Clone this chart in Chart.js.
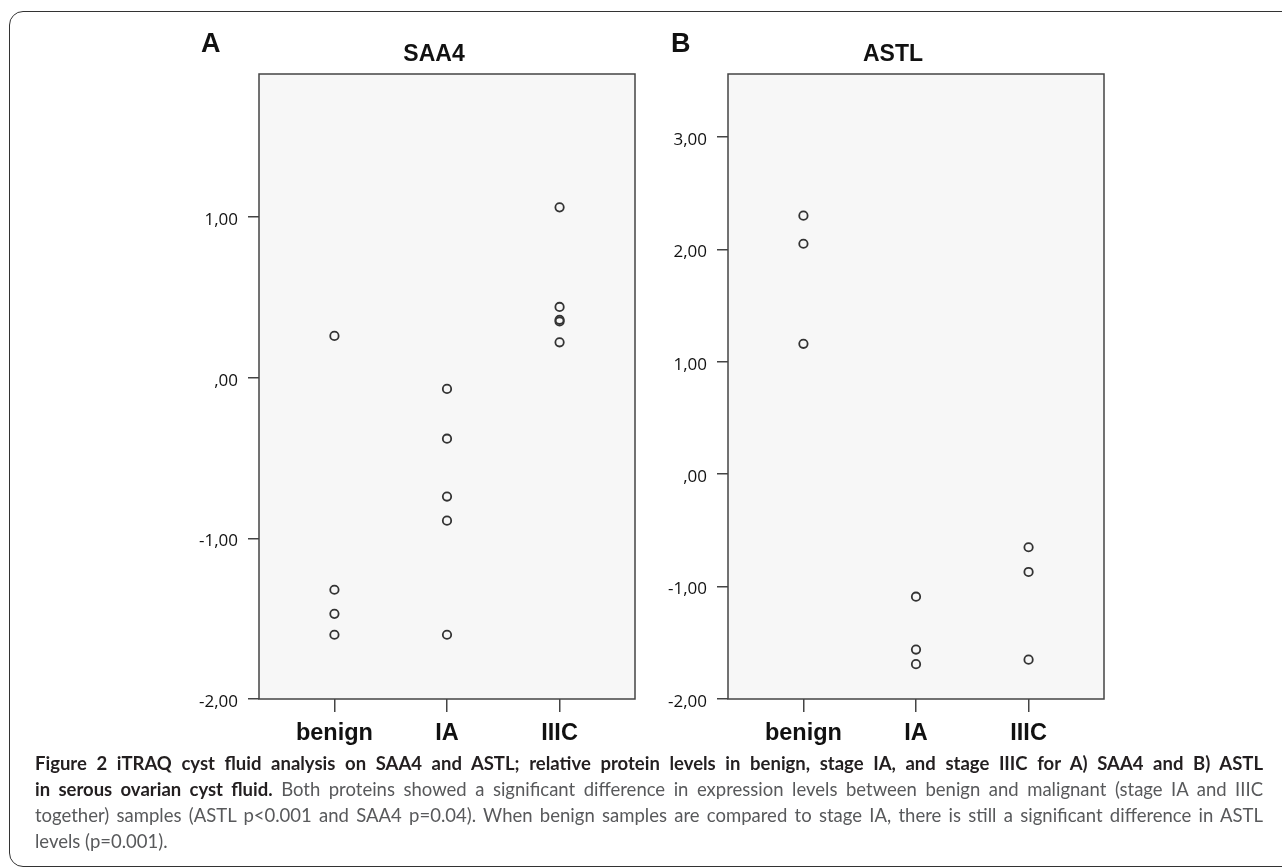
<!DOCTYPE html>
<html>
<head>
<meta charset="utf-8">
<script src="https://cdn.jsdelivr.net/npm/chart.js@4/dist/chart.umd.min.js"></script>
<style>
	html, body { margin: 0; padding: 0; background: #fff; overflow: hidden; }
	body { width: 1282px; height: 868px; position: relative; }
	#frame {
		position: absolute; left: 9px; top: 11px; width: 1400px; height: 854px;
		border: 1.5px solid #333; border-radius: 14px;
	}
	canvas { position: absolute; top: 0; }
	#caption {
		position: absolute; left: 35px; top: 750px; width: 1228px;
		font-family: Lato, "Open Sans", sans-serif; font-size: 18.5px; line-height: 26px;
		color: #58595b;
	}
	#caption b { color: #231f20; font-weight: bold; }
	#caption .ln { text-align: justify; text-align-last: justify; }
</style>
</head>
<body>
<div id="frame"></div>
<canvas id="chartA" width="660" height="760" style="left:0px"></canvas>
<canvas id="chartB" width="642" height="760" style="left:640px"></canvas>
<div id="caption">
	<div class="ln"><b>Figure 2 iTRAQ cyst fluid analysis on SAA4 and ASTL; relative protein levels in benign, stage IA, and stage IIIC for A) SAA4 and B) ASTL</b></div>
	<div class="ln"><b>in serous ovarian cyst fluid.</b> Both proteins showed a significant difference in expression levels between benign and malignant (stage IA and IIIC</div>
	<div class="ln">together) samples (ASTL p&lt;0.001 and SAA4 p=0.04). When benign samples are compared to stage IA, there is still a significant difference in ASTL</div>
	<div>levels (p=0.001).</div>
</div>
<script>
// Group values (relative protein levels).
var categories = ["benign", "IA", "IIIC"];

var saa4Benign = [0.26, -1.32, -1.47, -1.60];
var saa4IA = [-0.07, -0.38, -0.74, -0.89, -1.60];
var saa4IIIC = [1.06, 0.44, 0.36, 0.35, 0.22];
var saa4Ticks = [-2, -1, 0, 1];
var saa4Max = 1.89;

var astlBenign = [2.30, 2.05, 1.16];
var astlIA = [-1.09, -1.56, -1.69];
var astlIIIC = [-0.65, -0.87, -1.65];
var astlTicks = [-2, -1, 0, 1, 2, 3];
var astlMax = 3.56;

// SPSS style decimal comma, zero shown as ",00"
function fmtTick(v) {
	var s = Number(v).toFixed(2).replace(".", ",");
	return s.replace(/^0,/, ",");
}

function toPoints(groups) {
	var pts = [];
	for (var i = 0; i < groups.length; i++) {
		for (var j = 0; j < groups[i].length; j++) {
			pts.push({ x: i + 1, y: groups[i][j] });
		}
	}
	return pts;
}

// Plot background, box and panel headings
var panelDeco = {
	id: "panelDeco",
	beforeDraw: function(chart) {
		var a = chart.chartArea, ctx = chart.ctx;
		ctx.save();
		ctx.fillStyle = "#f7f7f7";
		ctx.fillRect(a.left, a.top, a.right - a.left, a.bottom - a.top);
		ctx.restore();
	},
	afterDraw: function(chart, args, opts) {
		var a = chart.chartArea, ctx = chart.ctx;
		ctx.save();
		ctx.strokeStyle = "#444";
		ctx.lineWidth = 1.5;
		ctx.strokeRect(a.left, a.top, a.right - a.left, a.bottom - a.top);
		ctx.fillStyle = "#111";
		ctx.textBaseline = "alphabetic";
		ctx.font = "bold 27px 'Liberation Sans', Arial, sans-serif";
		ctx.textAlign = "left";
		ctx.fillText(opts.letter, a.left + opts.letterDx, 52);
		ctx.font = "bold 23px 'Liberation Sans', Arial, sans-serif";
		ctx.textAlign = "center";
		ctx.fillText(opts.title, a.left + opts.titleDx, 61);
		ctx.restore();
	}
};

function makePanel(canvasId, groups, yTicks, yMax, deco, pad) {
	var ctx = document.getElementById(canvasId);
	return new Chart(ctx, {
		type: "scatter",
		data: {
			datasets: [{
				data: toPoints(groups),
				pointStyle: "circle",
				pointRadius: 4.2,
				pointBorderWidth: 1.8,
				borderColor: "#333",
				backgroundColor: "rgba(0,0,0,0)"
			}]
		},
		options: {
			responsive: false,
			animation: false,
			layout: { padding: pad },
			scales: {
				x: {
					type: "linear",
					min: 0.33,
					max: 3.67,
					afterBuildTicks: function(s) {
						s.ticks = categories.map(function(c, i) { return { value: i + 1 }; });
					},
					afterFit: function(s) { s.height = 50; },
					ticks: {
						callback: function(v) { return categories[v - 1]; },
						font: { family: "'Liberation Sans', Arial, sans-serif", size: 23.5, weight: "bold" },
						color: "#111",
						padding: 7,
						maxRotation: 0,
						autoSkip: false
					},
					grid: { drawOnChartArea: false, tickLength: 13, color: "#444", lineWidth: 1.5 },
					border: { display: false }
				},
				y: {
					type: "linear",
					min: -2,
					max: yMax,
					afterBuildTicks: function(s) {
						s.ticks = yTicks.map(function(v) { return { value: v }; });
					},
					afterFit: function(s) { s.width = 60; },
					ticks: {
						callback: fmtTick,
						font: { family: "'Open Sans', sans-serif", size: 17 },
						color: "#111",
						padding: 10,
						labelOffset: 3
					},
					grid: { drawOnChartArea: false, tickLength: 11, color: "#444", lineWidth: 1.5 },
					border: { display: false }
				}
			},
			plugins: {
				legend: { display: false },
				tooltip: { enabled: false },
				panelDeco: deco
			}
		},
		plugins: [panelDeco]
	});
}

makePanel("chartA", [saa4Benign, saa4IA, saa4IIIC], saa4Ticks, saa4Max,
	{ letter: "A", letterDx: -58, title: "SAA4", titleDx: 175 },
	{ left: 199, right: 25, top: 74, bottom: 11 });

makePanel("chartB", [astlBenign, astlIA, astlIIIC], astlTicks, astlMax,
	{ letter: "B", letterDx: -57, title: "ASTL", titleDx: 165 },
	{ left: 28, right: 178, top: 74, bottom: 11 });
</script>
</body>
</html>
